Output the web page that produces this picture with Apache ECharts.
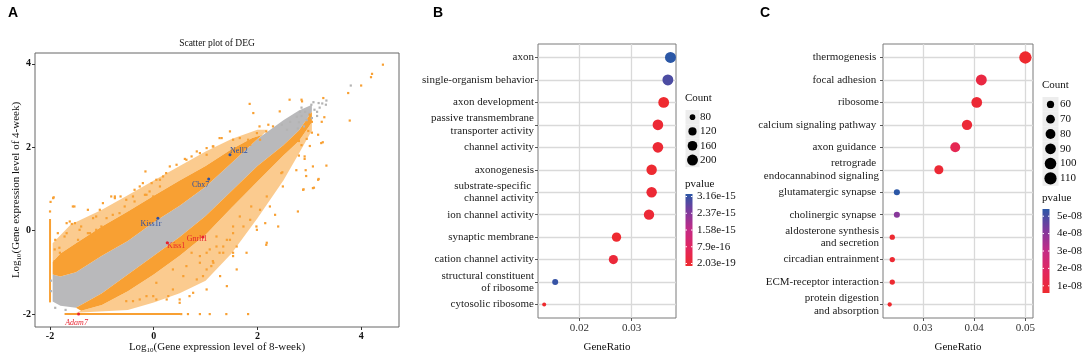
<!DOCTYPE html>
<html>
<head>
<meta charset="utf-8">
<script src="https://cdn.jsdelivr.net/npm/echarts@6/dist/echarts.min.js"></script>
<style>
  html, body { margin: 0; padding: 0; background: #fff; }
  #chart { width: 1084px; height: 355px; }
</style>
</head>
<body>
<div id="chart"></div>
<script>
// ---------- Panel A: DEG scatter (log10 expression, 8-week vs 4-week) ----------
// dense regions of the cloud, as outlines in data units
var greyTop = [[-1.95,-1.05],[-1.8,-1.1],[-1.5,-1.0],[-1.0,-0.6],[-0.5,-0.25],[0,0.2],[0.5,0.6],[1.0,1.05],[1.5,1.62],[2.0,2.2],[2.5,2.65],[2.8,2.88],[3.05,3.02]];
var greyBottom = [[-1.95,-1.7],[-1.8,-1.8],[-1.5,-1.85],[-1.0,-1.5],[-0.5,-1.05],[0,-0.6],[0.5,-0.15],[1.0,0.35],[1.5,0.95],[2.0,1.55],[2.5,2.05],[2.8,2.4],[3.05,2.85]];
var upTop = [[-1.95,-0.75],[-1.8,-0.55],[-1.5,-0.3],[-1.0,0.1],[-0.5,0.46],[0,0.84],[0.5,1.2],[1.0,1.55],[1.5,1.95],[1.9,2.22],[2.1,2.3]];
var upHaloTop = [[-1.95,-0.3],[-1.6,0.15],[-1.0,0.5],[-0.5,0.85],[0,1.2],[0.5,1.55],[1.0,1.9],[1.5,2.2],[2.0,2.42],[2.2,2.42]];
var lowBottom = [[-1.4,-1.92],[-1.0,-1.78],[-0.5,-1.45],[0,-1.05],[0.5,-0.6],[1.0,-0.1],[1.5,0.55],[2.0,1.18],[2.5,1.8],[2.8,2.15],[3.05,2.6]];
var lowHaloBottom = [[-1.5,-1.97],[-0.5,-1.9],[0,-1.72],[0.5,-1.5],[1.0,-1.2],[1.5,-0.55],[2.0,0.3],[2.5,1.2],[2.8,1.85],[3.05,2.4]];

// sparse DEG points (orange)
var orangePts = [
  [-0.16,1.42],[-0.14,0.86],[-0.40,0.82],[-0.82,0.82],[-0.75,0.78],[-1.04,0.50],[-1.27,0.50],[-1.56,0.58],
  [-1.62,0.22],[-1.52,0.18],[-1.94,0.78],[-1.91,-0.45],[-1.85,-0.06],[-1.81,-0.53],[-1.68,-0.06],[-1.43,0.02],
  [-1.23,-0.06],[-1.11,0.34],[-0.66,0.42],[-0.53,0.74],[-0.27,1.06],[0.12,1.22],[0.24,1.38],[0.63,1.70],
  [0.89,1.86],[1.02,1.98],[1.14,2.02],[1.27,2.22],[1.47,2.38],[1.53,2.18],[1.66,2.22],[1.82,2.18],
  [1.85,3.04],[1.92,2.82],[2.04,2.50],[2.17,2.38],[2.30,2.50],[2.43,2.86],[2.62,3.14],[2.85,3.14],
  [3.01,2.78],[3.27,3.18],[3.75,3.30],[3.78,2.64],[4.42,3.98],[4.21,3.76],[4.19,3.68],[4.00,3.48],
  [3.29,2.72],[3.24,2.61],[3.17,2.30],[3.26,2.12],[3.01,2.03],[3.33,1.56],[2.80,1.80],[2.91,1.72],
  [2.93,1.45],[2.48,1.40],[2.75,1.45],[2.94,1.31],[3.18,1.24],[3.09,1.03],[2.89,0.99],[2.86,3.10],
  [3.05,2.61],[2.94,2.49],[2.98,2.39],[2.91,1.78],[3.07,1.54],[3.23,2.10],[2.88,0.98],[3.07,1.02],
  [3.17,1.22],[2.46,1.38],[2.49,1.06],[2.78,0.46],[2.17,-0.34],[1.98,0.10],[1.88,0.58],[1.66,0.34],
  [1.53,0.10],[1.47,-0.22],[1.27,-0.53],[1.14,-0.73],[1.11,-0.85],[0.95,-1.09],[1.02,-1.41],[0.69,-1.57],
  [0.50,-1.65],[0.28,-1.57],[0.05,-1.65],[-0.14,-1.57],[-0.40,-1.69],[0.89,-0.61],[1.21,-0.38],[1.53,-0.53],
  [-1.99,0.69],[-2.0,0.46],[-1.93,0.80],[-1.53,0.58],[-0.98,0.66],[-0.75,0.82],[-0.04,1.14],[-0.17,0.86],
  [-1.68,0.18],[-1.58,0.16],[-1.40,0.10],[-1.11,0.02],[-1.90,-0.22],[-1.82,-0.41],[-1.72,-0.14],[-1.46,-0.22],
  [-1.27,-0.06],[-1.91,-0.73],[-0.91,0.30],[-0.79,0.38],[-0.56,0.58],[-0.46,0.42],[-0.37,0.70],[-0.08,0.94],
  [-0.01,0.82],[-1.14,-0.22],[-1.01,0.10],[-1.17,0.30],[-0.64,0.82],[-0.37,0.98],[-0.21,1.14],
  [2.21,2.54],[1.31,2.22],[0.60,1.72],[0.73,1.78],[0.83,1.90],[1.02,1.82],[1.15,2.02],[1.59,1.94],
  [1.86,2.06],[1.99,2.34],[2.05,2.18],[0.31,1.54],[0.44,1.58],[0.18,1.30],[0.05,1.22],[0.12,1.06],
  [2.18,0.82],[2.05,0.50],[2.24,0.58],[1.86,0.26],[1.73,0.10],[1.99,0.02],[2.18,-0.29],[1.53,-0.06],
  [1.41,-0.22],[1.21,-0.14],[1.60,-0.38],[1.79,-0.53],[1.34,-0.53],[1.08,-0.45],[2.34,0.38],[2.40,0.10],
  [2.15,0.18],[0.37,-1.41],[0.57,-1.09],[0.83,-1.17],[1.02,-0.93],[1.15,-0.77],[1.28,-1.09],[1.41,-1.33],
  [1.53,-0.61],[1.60,-0.93],[0.76,-1.49],[0.25,-1.65],[-0.01,-1.57],[-0.27,-1.65],[-0.53,-1.69],[0.50,-1.73],
  [1.02,-0.53],[1.34,-0.38],[0.73,-0.53],[0.89,-0.77],[0.37,-0.93],[0.63,-0.85],[0.05,-1.25],
  [2.85,2.05],[2.95,2.2],[3.05,2.35],[2.8,2.15],
  [0.53,-2],[0.66,-2],[0.89,-2],[1.08,-2],[1.40,-2],[1.82,-2]
];
// sparse non-DEG points (grey)
var greyPts = [
  [3.80,3.48],[3.33,3.12],[3.32,3.02],[3.04,3.02],[3.15,2.85],[3.18,3.06],[2.82,2.85],[2.76,2.73],
  [2.63,2.61],[2.47,2.54],[2.57,2.42],[2.8,2.6],[2.85,2.75],[2.9,2.5],[2.95,2.65],[3.0,2.8],
  [3.05,2.7],[3.1,2.9],[3.15,2.75],[3.2,2.95],[3.25,3.05],[2.85,2.95],[2.78,2.45],[2.92,2.85],
  [3.08,3.08],[-1.9,-1.85],[-1.7,-1.9],[-1.98,-1.45],[-1.98,-1.2]
];
// genes with zero counts in one sample sit on the x=-2 / y=-2 floors
var floorX = [[-2,-1.72],[-2,0.28]];
var floorY = [[-1.72,-2],[0.52,-2]];
// labelled genes
var geneNames = ['Nell2','Cbx7','Kiss1r','Kiss1','Gnrh1','Adam7'];
var geneX = [1.47, 1.06, 0.08, 0.26, 0.95, -1.45];
var geneY = [1.82, 1.24, 0.30, -0.29, -0.15, -2.0];
var geneUp = [true, true, true, false, false, false];

// ---------- Panel B: GO enrichment ----------
var bTerms = ['axon','single-organism behavior','axon development','passive transmembrane\ntransporter activity',
  'channel activity','axonogenesis','substrate-specific \nchannel activity','ion channel activity',
  'synaptic membrane','cation channel activity','structural constituent\nof ribosome','cytosolic ribosome'];
var bRatio = [0.0374,0.0369,0.0361,0.0350,0.0350,0.0338,0.0338,0.0333,0.0271,0.0265,0.0154,0.0133];
var bCount = [205,202,198,192,192,185,185,182,149,145,84,73];
var bPvalue = [3.16e-15,2.85e-15,2e-17,1e-16,1e-16,5e-17,1.2e-16,1.5e-16,3e-17,2e-16,3.05e-15,2.03e-19];
var bCountBreaks = [80,120,160,200];
var bPBreaks = [3.16e-15,2.37e-15,1.58e-15,7.9e-16,2.03e-19];
var bPLabels = ['3.16e-15','2.37e-15','1.58e-15','7.9e-16','2.03e-19'];

// ---------- Panel C: KEGG enrichment ----------
var cTerms = ['thermogenesis ','focal adhesion ','ribosome','calcium signaling pathway ','axon guidance ',
  'retrograde \nendocannabinod signaling','glutamatergic synapse ','cholinergic synapse ',
  'aldosterone synthesis\nand secretion','circadian entrainment','ECM-receptor interaction','protein digestion\nand absorption'];
var cRatio = [0.0500,0.0414,0.0405,0.0386,0.0363,0.0331,0.0249,0.0249,0.0240,0.0240,0.0240,0.0235];
var cCount = [111,92,90,86,81,73,55,55,53,53,53,52];
var cPvalue = [0.75e-8,1.2e-8,0.9e-8,0.95e-8,1.6e-8,0.9e-8,5.27e-8,4.0e-8,0.8e-8,0.85e-8,0.8e-8,0.73e-8];
var cCountBreaks = [60,70,80,90,100,110];
var cPBreaks = [5e-8,4e-8,3e-8,2e-8,1e-8];
var cPLabels = ['5e-08','4e-08','3e-08','2e-08','1e-08'];

var SERIF = '"Liberation Serif", "Times New Roman", serif';
var ORANGE = '#f8a033';
var GREY = '#b9b9bb';
var pColors = ['#ee2a2e', '#e2265e', '#c42a86', '#7f3a9d', '#2b57a6']; // low -> high p
var bPMin = 2.03e-19, bPMax = 3.16e-15;
var cPMin = 0.73e-8, cPMax = 5.27e-8;

function sizeB(c) { return 4 + 7 * Math.sqrt(Math.max(0, (c - 73) / (205 - 73))); }
function sizeC(c) { return 4.3 + 8 * Math.sqrt(Math.max(0, (c - 52) / (111 - 52))); }

function area(pts, color, opacity, z) {
  return {
    type: 'custom', xAxisIndex: 0, yAxisIndex: 0, z: z, silent: true, clip: true,
    data: [[0, 0]],
    renderItem: function (params, api) {
      return {
        type: 'polygon',
        shape: { points: pts.map(function (p) { return api.coord(p); }) },
        style: { fill: color, opacity: opacity }
      };
    }
  };
}
function rev(a) { return a.slice().reverse(); }

var greyPoly = greyTop.concat(rev(greyBottom));
var upPoly = upTop.concat(rev(greyTop.slice(0, 10)));
var upHaloPoly = upHaloTop.concat(rev(upTop));
var lowPoly = greyBottom.slice(2).concat(rev(lowBottom));
var lowHaloPoly = lowBottom.concat(rev(lowHaloBottom));

var geneData = geneNames.map(function (n, i) {
  var offs = { Nell2: [9, -4], Cbx7: [-8, 6], Kiss1r: [-7, 6], Kiss1: [9, 3], Gnrh1: [-6, 2], Adam7: [-2, 9] };
  return {
    value: [geneX[i], geneY[i]], name: n,
    itemStyle: { color: geneUp[i] ? '#2b4fa3' : '#e8232f', opacity: 1 },
    label: {
      show: true, position: 'inside', offset: offs[n], formatter: n,
      color: geneUp[i] ? '#2b4fa3' : '#e8232f', fontFamily: SERIF, fontSize: 8,
      fontStyle: n === 'Adam7' ? 'italic' : 'normal'
    }
  };
});

function dotData(terms, ratio, count, pv) {
  return terms.map(function (t, i) { return [ratio[i], i, count[i], pv[i]]; });
}
function idx(n) { var a = []; for (var i = 0; i < n; i++) a.push(i); return a; }

// term axis: value axis so the 0.6-step padding of the original can be kept
function termAxis(grid, terms) {
  return {
    gridIndex: grid, type: 'value', inverse: true, min: -0.6, max: terms.length - 0.4,
    axisLine: { show: false, onZero: false },
    axisTick: { show: true, length: 3, lineStyle: { color: '#555' }, customValues: idx(terms.length) },
    axisLabel: { customValues: idx(terms.length), fontFamily: SERIF, fontSize: 11, lineHeight: 12.5, color: '#1a1a1a', margin: 4,
      formatter: function (v) { return terms[Math.round(v)]; } },
    splitLine: { show: false }
  };
}
function ratioAxis(grid, min, max, ticks) {
  return {
    gridIndex: grid, type: 'value', min: min, max: max,
    axisLine: { show: false, onZero: false },
    axisTick: { show: true, length: 3, lineStyle: { color: '#555' }, customValues: ticks },
    axisLabel: { customValues: ticks, fontFamily: SERIF, fontSize: 11, color: '#333', margin: 5,
      formatter: function (v) { return v.toFixed(2); } },
    splitLine: { show: false },
    name: 'GeneRatio', nameLocation: 'middle', nameGap: 24, nameMoveOverlap: false,
    nameTextStyle: { fontFamily: SERIF, fontSize: 11, color: '#111' }
  };
}
function gridLines(xi, terms, ticks) {
  var d = terms.map(function (t, i) { return { yAxis: i }; });
  ticks.forEach(function (v) { d.push({ xAxis: v }); });
  return {
    type: 'scatter', xAxisIndex: xi, yAxisIndex: xi, data: [[ticks[0], 0]], symbolSize: 0, silent: true, z: 1,
    markLine: { silent: true, symbol: ['none', 'none'], label: { show: false }, animation: false,
      lineStyle: { color: '#d9d9d9', width: 1.3, type: 'solid' }, emphasis: { disabled: true }, data: d }
  };
}

var graphics = [
  { type: 'text', x: 8, y: 13, style: { text: 'A', font: 'bold 14px "Liberation Sans", Arial', fill: '#000', verticalAlign: 'middle' } },
  { type: 'text', x: 433, y: 13, style: { text: 'B', font: 'bold 14px "Liberation Sans", Arial', fill: '#000', verticalAlign: 'middle' } },
  { type: 'text', x: 760, y: 13, style: { text: 'C', font: 'bold 14px "Liberation Sans", Arial', fill: '#000', verticalAlign: 'middle' } },
  { type: 'text', x: 217, y: 43, style: { text: 'Scatter plot of DEG', font: '9.5px ' + SERIF, fill: '#111', align: 'center', verticalAlign: 'middle' } }
];

function legend(x0, countTop, step, breaks, sizeFn, pTop, barTop, barBot, pMin, pMax, pBreaks, pLabels, keyW, labX) {
  graphics.push({ type: 'text', x: x0, y: countTop, style: { text: 'Count', font: '11px ' + SERIF, fill: '#111', verticalAlign: 'middle' } });
  var keyTop = countTop + 12;
  breaks.forEach(function (c, i) {
    var cy = keyTop + step * (i + 0.5);
    graphics.push({ type: 'rect', shape: { x: x0 + 0.5, y: keyTop + step * i, width: keyW, height: step }, style: { fill: '#ededed' } });
    graphics.push({ type: 'circle', shape: { cx: x0 + 0.5 + keyW / 2, cy: cy, r: sizeFn(c) / 2 }, style: { fill: '#000' } });
    graphics.push({ type: 'text', x: labX, y: cy, style: { text: String(c), font: '11px ' + SERIF, fill: '#111', verticalAlign: 'middle' } });
  });
  graphics.push({ type: 'text', x: x0, y: pTop, style: { text: 'pvalue', font: '11px ' + SERIF, fill: '#111', verticalAlign: 'middle' } });
  var stops = pColors.map(function (c, i) { return { offset: 1 - i / (pColors.length - 1), color: c }; }).reverse();
  graphics.push({ type: 'rect', shape: { x: x0 + 0.5, y: barTop, width: 7, height: barBot - barTop },
    style: { fill: new echarts.graphic.LinearGradient(0, 0, 0, 1, stops) } });
  var inset = 2.5;
  pBreaks.forEach(function (v, i) {
    var y = barBot - inset - (v - pMin) / (pMax - pMin) * (barBot - barTop - 2 * inset);
    graphics.push({ type: 'line', shape: { x1: x0 + 0.5, y1: y, x2: x0 + 2, y2: y }, style: { stroke: '#fff', lineWidth: 1 } });
    graphics.push({ type: 'line', shape: { x1: x0 + 6, y1: y, x2: x0 + 7.5, y2: y }, style: { stroke: '#fff', lineWidth: 1 } });
    graphics.push({ type: 'text', x: labX - 3, y: y, style: { text: pLabels[i], font: '11px ' + SERIF, fill: '#111', verticalAlign: 'middle' } });
  });
}
legend(685, 98, 14.3, bCountBreaks, sizeB, 184, 194, 266, bPMin, bPMax, bPBreaks, bPLabels, 14, 700);
legend(1042, 85, 14.8, cCountBreaks, sizeC, 198, 209, 293, cPMin, cPMax, cPBreaks, cPLabels, 16, 1060);

var titleRich = { sub: { fontSize: 7, fontFamily: SERIF, verticalAlign: 'bottom', lineHeight: 7 } };
var aTicks = [-2, 0, 2, 4];

var option = {
  animation: false,
  backgroundColor: '#fff',
  grid: [
    { left: 35, top: 53, width: 364, height: 274, show: true, borderColor: '#666', borderWidth: 1, outerBoundsMode: 'none', containLabel: false },
    { left: 538, top: 44, width: 138, height: 274, show: true, borderColor: '#7a7a7a', borderWidth: 1, outerBoundsMode: 'none', containLabel: false },
    { left: 883, top: 44, width: 150, height: 274, show: true, borderColor: '#7a7a7a', borderWidth: 1, outerBoundsMode: 'none', containLabel: false }
  ],
  xAxis: [
    {
      gridIndex: 0, type: 'value', min: -2.29, max: 4.73,
      axisLine: { show: false, onZero: false },
      axisTick: { show: true, length: 3, lineStyle: { color: '#333' }, customValues: aTicks },
      axisLabel: { customValues: aTicks, fontFamily: SERIF, fontWeight: 'bold', fontSize: 10, color: '#111', margin: 4 },
      splitLine: { show: false },
      name: 'Log{sub|10}(Gene expression level of 8-week)', nameLocation: 'middle', nameGap: 13, nameMoveOverlap: false,
      nameTextStyle: { fontFamily: SERIF, fontSize: 11, color: '#111', lineHeight: 14, rich: titleRich }
    },
    ratioAxis(1, 0.01212, 0.03845, [0.02, 0.03]),
    ratioAxis(2, 0.02219, 0.05149, [0.03, 0.04, 0.05])
  ],
  yAxis: [
    {
      gridIndex: 0, type: 'value', min: -2.31, max: 4.26,
      axisLine: { show: false, onZero: false },
      axisTick: { show: true, length: 3, lineStyle: { color: '#333' }, customValues: aTicks },
      axisLabel: { customValues: aTicks, fontFamily: SERIF, fontWeight: 'bold', fontSize: 10, color: '#111', margin: 4 },
      splitLine: { show: false },
      name: 'Log{sub|10}(Gene expression level of 4-week)', nameLocation: 'middle', nameGap: 12, nameRotate: 90, nameMoveOverlap: false,
      nameTextStyle: { fontFamily: SERIF, fontSize: 11, color: '#111', lineHeight: 14, rich: titleRich }
    },
    termAxis(1, bTerms),
    termAxis(2, cTerms)
  ],
  visualMap: [
    { type: 'continuous', show: false, seriesIndex: 10, dimension: 3, min: bPMin, max: bPMax, inRange: { color: pColors } },
    { type: 'continuous', show: false, seriesIndex: 12, dimension: 3, min: cPMin, max: cPMax, inRange: { color: pColors } }
  ],
  series: [
    area(upHaloPoly, ORANGE, 0.55, 1),     // 0
    area(lowHaloPoly, ORANGE, 0.55, 1),    // 1
    area(greyPoly, GREY, 1, 2),            // 2
    area(upPoly, ORANGE, 1, 3),            // 3
    area(lowPoly, ORANGE, 1, 3),           // 4
    { type: 'line', xAxisIndex: 0, yAxisIndex: 0, data: floorX, symbol: 'none', z: 4, silent: true, lineStyle: { color: ORANGE, width: 2 } }, // 5
    { type: 'line', xAxisIndex: 0, yAxisIndex: 0, data: floorY, symbol: 'none', z: 4, silent: true, lineStyle: { color: ORANGE, width: 2 } }, // 6
    { type: 'scatter', xAxisIndex: 0, yAxisIndex: 0, data: greyPts, symbol: 'rect', symbolSize: 2.2, z: 4, silent: true, itemStyle: { color: '#b3b3b3', opacity: 1 } }, // 7
    { type: 'scatter', xAxisIndex: 0, yAxisIndex: 0, data: orangePts, symbol: 'rect', symbolSize: 2.2, z: 5, silent: true, itemStyle: { color: ORANGE, opacity: 1 } }, // 8
    { type: 'scatter', xAxisIndex: 0, yAxisIndex: 0, data: geneData, symbolSize: 3, z: 6, silent: true }, // 9
    {
      type: 'scatter', xAxisIndex: 1, yAxisIndex: 1, z: 10, silent: true,
      data: dotData(bTerms, bRatio, bCount, bPvalue), itemStyle: { opacity: 1 },
      symbolSize: function (v) { return sizeB(v[2]); }
    }, // 10
    gridLines(1, bTerms, [0.02, 0.03]), // 11
    {
      type: 'scatter', xAxisIndex: 2, yAxisIndex: 2, z: 10, silent: true,
      data: dotData(cTerms, cRatio, cCount, cPvalue), itemStyle: { opacity: 1 },
      symbolSize: function (v) { return sizeC(v[2]); }
    }, // 12
    gridLines(2, cTerms, [0.03, 0.04, 0.05]) // 13
  ],
  graphic: graphics
};

var chart = echarts.init(document.getElementById('chart'));
chart.setOption(option);
window.addEventListener('resize', chart.resize);
</script>
</body>
</html>
